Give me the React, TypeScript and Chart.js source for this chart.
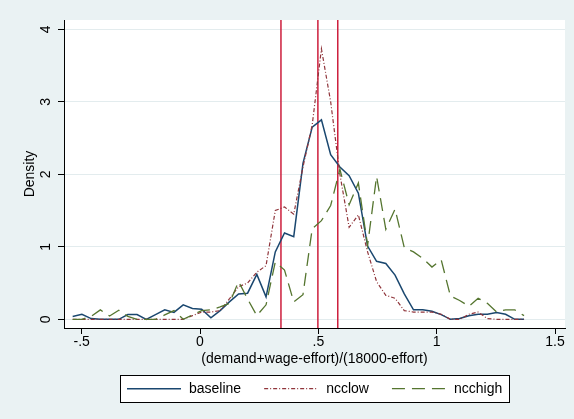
import { useEffect, useRef } from "react";
import { Chart, registerables } from "chart.js";

Chart.register(...registerables);

// ---------- data ----------
const xGrid = [
  -0.538, -0.499, -0.46, -0.421, -0.382, -0.343, -0.305, -0.266, -0.227, -0.188,
  -0.149, -0.11, -0.071, -0.032, 0.007, 0.046, 0.085, 0.124, 0.163, 0.201,
  0.24, 0.279, 0.318, 0.357, 0.396, 0.435, 0.474, 0.513, 0.552, 0.591,
  0.63, 0.669, 0.708, 0.746, 0.785, 0.824, 0.863, 0.902, 0.941, 0.98,
  1.019, 1.058, 1.097, 1.136, 1.175, 1.214, 1.253, 1.291, 1.33, 1.369,
];

const baseline = [
  0.04, 0.07, 0.01, 0, 0, 0, 0.065, 0.065, 0, 0.065,
  0.13, 0.095, 0.2, 0.15, 0.14, 0.02, 0.12, 0.24, 0.35, 0.36,
  0.62, 0.31, 0.93, 1.19, 1.14, 2.15, 2.65, 2.75, 2.27, 2.1,
  1.98, 1.74, 1.01, 0.8, 0.77, 0.61, 0.35, 0.13, 0.13, 0.11,
  0.065, 0, 0.01, 0.05, 0.07, 0.07, 0.095, 0.07, 0, 0,
];

const ncclow = [
  0, 0, 0, 0, 0, 0, 0, 0, 0, 0,
  0, 0, 0, 0.05, 0.1, 0.1, 0.12, 0.28, 0.45, 0.5,
  0.65, 0.74, 1.5, 1.55, 1.45, 2.1, 2.68, 3.73, 3.0, 2.0,
  1.27, 1.44, 0.93, 0.52, 0.33, 0.29, 0.12, 0.1, 0.1, 0.1,
  0.07, 0, 0, 0.07, 0.1, 0.01, 0, 0, 0, 0,
];

const ncchigh = [
  0, 0, 0.04, 0.13, 0.045, 0.125, 0.04, 0, 0, 0,
  0.06, 0.12, 0, 0.06, 0.12, 0.13, 0.17, 0.22, 0.52, 0.28,
  0.05, 0.2, 0.79, 0.68, 0.24, 0.34, 1.25, 1.36, 1.57, 2.07,
  1.58, 1.88, 1.02, 1.97, 1.24, 1.52, 0.99, 0.93, 0.84, 0.72,
  0.82, 0.32, 0.26, 0.18, 0.29, 0.22, 0.1, 0.13, 0.13, 0.05,
];

const seriesNames = ["baseline", "ncclow", "ncchigh"];
const xLines = [0.342, 0.498, 0.582];

const xTickValues = [-0.5, 0, 0.5, 1, 1.5];
const xTickLabels = ["-.5", "0", ".5", "1", "1.5"];
const yTickValues = [0, 1, 2, 3, 4];
const yTickLabels = ["0", "1", "2", "3", "4"];
const xTitle = "(demand+wage-effort)/(18000-effort)";
const yTitle = "Density";

// ---------- styles ----------
const X_MIN = -0.5746;
const X_MAX = 1.542;
const Y_MIN = -0.12;
const Y_MAX = 4.128;
const FONT = "'Liberation Sans', Arial, Helvetica, sans-serif";

const seriesStyles = [
  { color: "#1A476F", width: 1.5, dash: [] as number[], order: 3 },
  { color: "#90353B", width: 1.2, dash: [4, 2, 1, 2], order: 2 },
  { color: "#55752F", width: 1.3, dash: [13, 7], order: 1 },
];
const xLineColor = "#CD1E3C";

const bgPlugin = {
  id: "stataBg",
  beforeDraw(chart: any) {
    const { ctx, chartArea: a, width, height } = chart;
    ctx.save();
    ctx.fillStyle = "#EAF2F3";
    ctx.fillRect(0, 0, width, height);
    ctx.fillStyle = "#FFFFFF";
    ctx.fillRect(a.left, a.top, a.right - a.left, a.bottom - a.top);
    ctx.restore();
  },
};

const legendPlugin = {
  id: "stataLegend",
  afterDraw(chart: any) {
    const { ctx, chartArea: a } = chart;
    const items = chart.data.datasets.filter((d: any) => d.inLegend);
    ctx.save();
    ctx.font = `14px ${FONT}`;
    const keyW = 54, keyGap = 8, itemGap = 23, pad = 7;
    const widths = items.map((d: any) => ctx.measureText(d.label).width);
    const total =
      pad * 2 +
      items.length * (keyW + keyGap) +
      widths.reduce((s: number, w: number) => s + w, 0) +
      itemGap * (items.length - 1);
    const boxLeft = Math.round((a.left + a.right) / 2 - total / 2);
    const boxTop = a.bottom + 47;
    const boxH = 27;
    ctx.fillStyle = "#FFFFFF";
    ctx.fillRect(boxLeft, boxTop, total, boxH);
    ctx.strokeStyle = "#000000";
    ctx.lineWidth = 1;
    ctx.setLineDash([]);
    ctx.strokeRect(boxLeft + 0.5, boxTop + 0.5, Math.round(total), boxH);
    const cy = boxTop + 13.7;
    let x = boxLeft + pad;
    items.forEach((d: any, i: number) => {
      ctx.save();
      ctx.strokeStyle = d.borderColor;
      ctx.lineWidth = d.borderWidth;
      ctx.setLineDash(d.borderDash || []);
      ctx.beginPath();
      ctx.moveTo(x, cy);
      ctx.lineTo(x + keyW, cy);
      ctx.stroke();
      ctx.restore();
      ctx.fillStyle = "#000000";
      ctx.textBaseline = "middle";
      ctx.textAlign = "left";
      ctx.fillText(d.label, x + keyW + keyGap, cy + 0.5);
      x += keyW + keyGap + widths[i] + itemGap;
    });
    ctx.restore();
  },
};

export default function App() {
  const canvasRef = useRef<HTMLCanvasElement | null>(null);

  useEffect(() => {
    document.body.style.margin = "0";
    const canvas = canvasRef.current;
    if (!canvas) return;

    const seriesValues = [baseline, ncclow, ncchigh];
    const seriesDatasets = seriesNames.map((name, si) => ({
      type: "line" as const,
      label: name,
      inLegend: true,
      data: xGrid.map((x, i) => ({ x, y: seriesValues[si][i] })),
      borderColor: seriesStyles[si].color,
      borderWidth: seriesStyles[si].width,
      borderDash: seriesStyles[si].dash,
      pointRadius: 0,
      tension: 0,
      fill: false,
      order: seriesStyles[si].order,
    }));
    const lineDatasets = xLines.map((v) => ({
      type: "line" as const,
      label: "",
      inLegend: false,
      data: [
        { x: v, y: Y_MIN },
        { x: v, y: Y_MAX },
      ],
      borderColor: xLineColor,
      borderWidth: 1.5,
      pointRadius: 0,
      fill: false,
      order: 10,
    }));

    const chart = new Chart(canvas, {
      type: "line",
      data: { datasets: [...seriesDatasets, ...lineDatasets] as any },
      plugins: [bgPlugin, legendPlugin],
      options: {
        responsive: false,
        animation: false,
        layout: { padding: { left: 0, top: 20, right: 9, bottom: 51 } },
        plugins: { legend: { display: false }, tooltip: { enabled: false } },
        scales: {
          x: {
            type: "linear",
            position: "bottom",
            min: X_MIN,
            max: X_MAX,
            afterBuildTicks: (s: any) => {
              s.ticks = xTickValues.map((v) => ({ value: v }));
            },
            afterFit: (s: any) => {
              s.height = 40;
            },
            ticks: {
              autoSkip: false,
              maxRotation: 0,
              padding: 0,
              color: "#000",
              font: { size: 14, family: FONT },
              callback: (v: any) => xTickLabels[xTickValues.indexOf(Number(v))] ?? "",
            },
            grid: {
              drawOnChartArea: false,
              drawTicks: true,
              tickLength: 6,
              tickColor: "#000",
              tickWidth: 1,
            },
            border: { display: true, color: "#000", width: 1 },
            title: {
              display: true,
              text: xTitle,
              color: "#000",
              font: { size: 14, family: FONT },
              padding: { top: 0, bottom: 0 },
            },
          },
          y: {
            type: "linear",
            position: "left",
            min: Y_MIN,
            max: Y_MAX,
            afterBuildTicks: (s: any) => {
              s.ticks = yTickValues.map((v) => ({ value: v }));
            },
            afterFit: (s: any) => {
              s.width = 64;
            },
            ticks: {
              autoSkip: false,
              minRotation: 90,
              maxRotation: 90,
              crossAlign: "center",
              padding: 8,
              color: "#000",
              font: { size: 14, family: FONT },
              callback: (v: any) => yTickLabels[yTickValues.indexOf(Number(v))] ?? "",
            },
            grid: {
              color: "#E3ECEE",
              lineWidth: 1,
              drawTicks: true,
              tickLength: 6,
              tickColor: "#000",
              tickWidth: 1,
            },
            border: { display: true, color: "#000", width: 1 },
            title: {
              display: true,
              text: yTitle,
              color: "#000",
              font: { size: 14, family: FONT },
              padding: { top: 21.6, bottom: 0 },
            },
          },
        },
      } as any,
    });

    return () => chart.destroy();
  }, []);

  return (
    <div style={{ width: 574, height: 419 }}>
      <canvas ref={canvasRef} width={574} height={419} style={{ display: "block" }} />
    </div>
  );
}
